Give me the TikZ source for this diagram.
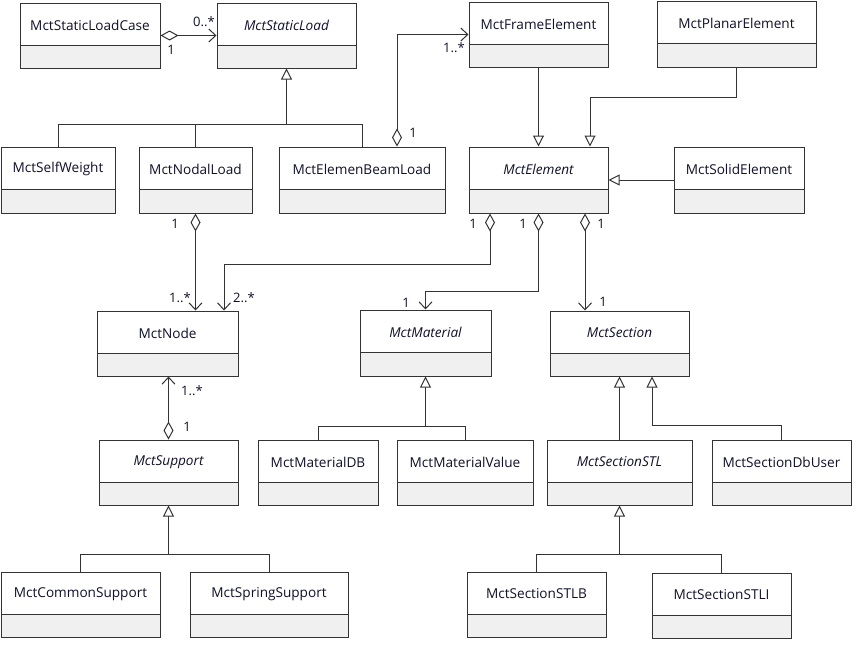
\documentclass[tikz,border=0pt]{standalone}
\usepackage{fontspec}
\setmainfont{Open Sans}
\usetikzlibrary{arrows.meta}
\definecolor{ln}{HTML}{333333}
\definecolor{attr}{HTML}{F0F0F0}
\definecolor{txt}{HTML}{10102A}
\newcommand{\umlclass}[7]{%
  \fill[attr] (#2,#3+42) rectangle (#4,#5);
  \node[box, minimum width={(#4-#2)*1pt}, minimum height={(#5-#3)*1pt}] (#1) at ({(#2+#4)/2},{(#3+#5)/2}) {};
  \draw[conn] (#2,#3+42) -- (#4,#3+42);
  \node[ttl,#7] (#1-t) at ({(#2+#4)/2},#3+22) {#6};
}
\tikzset{
  box/.style={draw=ln, line width=1pt, inner sep=0pt, rectangle},
  ttl/.style={font=\fontsize{13.6}{16}\selectfont, text=txt, inner sep=0pt},
  up/.style={},
  it/.style={font=\fontsize{13.6}{16}\selectfont\itshape},
  lbl/.style={font=\fontsize{13}{15}\selectfont, text=txt, inner sep=0pt},
  conn/.style={draw=ln, line width=1pt},
  agg/.style={conn, {Diamond[open,length=18pt,width=10pt]}-{Straight Barb[length=7pt,width=13pt]}},
  gen/.style={conn, -{Triangle[open,length=11pt,width=11pt,fill=white]}},
}
\begin{document}
\begin{tikzpicture}[x=1pt,y=-1pt]
\fill[white] (0,0) rectangle (858,645);
\useasboundingbox (0,0) rectangle (858,645);
\umlclass{slc}{20}{3}{160}{68}{MctStaticLoadCase}{up}
\umlclass{sl}{217}{3}{356}{68}{MctStaticLoad}{it}
\umlclass{sw}{1}{147}{115}{213}{MctSelfWeight}{up}
\umlclass{nl}{139}{147}{252}{213}{MctNodalLoad}{up}
\umlclass{ebl}{279}{147}{445}{213}{MctElemenBeamLoad}{up}
\umlclass{fe}{469}{2}{608}{67}{MctFrameElement}{up}
\umlclass{pe}{657}{1}{816}{67}{MctPlanarElement}{up}
\umlclass{el}{469}{147}{608}{213}{MctElement}{it}
\umlclass{se}{674}{147}{804}{213}{MctSolidElement}{up}
\umlclass{nd}{97}{311}{238}{376}{MctNode}{up}
\umlclass{mat}{360}{310}{491}{376}{MctMaterial}{it}
\umlclass{sec}{550}{311}{689}{376}{MctSection}{it}
\umlclass{sup}{99}{440}{238}{505}{MctSupport}{it}
\umlclass{mdb}{258}{440}{378}{505}{MctMaterialDB}{up}
\umlclass{mv}{397}{440}{533}{505}{MctMaterialValue}{up}
\umlclass{stl}{547}{440}{692}{505}{MctSectionSTL}{it}
\umlclass{dbu}{712}{440}{851}{505}{MctSectionDbUser}{up}
\umlclass{cs}{1}{572}{160}{637}{MctCommonSupport}{up}
\umlclass{ss}{190}{572}{348}{637}{MctSpringSupport}{up}
\umlclass{stlb}{467}{572}{606}{637}{MctSectionSTLB}{up}
\umlclass{stli}{652}{573}{791}{638}{MctSectionSTLI}{up}
% static load generalization
\coordinate (g1) at (286.5,124);
\draw[conn] (sw.north) |- (g1);
\draw[conn] (ebl.north) |- (g1);
\draw[conn] (nl.north) -- (nl.north |- g1);
\draw[gen] (g1) -- (sl.south);
% element generalizations
\draw[gen] (fe.south) -- (el.north);
\draw[gen] (pe.south) -- ++(0,30) -| ([xshift=51.5pt]el.north);
\draw[gen] (se.west) -- (el.east);
% support
\coordinate (g2) at (168.5,554);
\draw[conn] (cs.north) |- (g2);
\draw[conn] (ss.north) |- (g2);
\draw[gen] (g2) -- (sup.south);
% material
\coordinate (g3) at (425.5,426);
\draw[conn] (mdb.north) |- (g3);
\draw[conn] (mv.north) |- (g3);
\draw[gen] (g3) -- (mat.south);
% section
\draw[gen] (stl.north) -- (sec.south);
\draw[gen] (dbu.north) |- ++(-129.5,-14) -- ([xshift=32.5pt]sec.south);
\coordinate (g4) at (619.5,554);
\draw[conn] (stlb.north) |- (g4);
\draw[conn] (stli.north) |- (g4);
\draw[gen] (g4) -- (stl.south);
% aggregations
\draw[agg] (slc.east) -- (sl.west);
\draw[agg] ([xshift=35pt]ebl.north) |- (fe.west);
\draw[agg] (nl.south) -- (nl.south |- nd.north);
\draw[agg] ([xshift=-48.5pt]el.south) -- ++(0,51) -| ([xshift=56.5pt]nd.north);
\draw[agg] (el.south) -- ++(0,78) -| (mat.north);
\draw[agg] ([xshift=46.5pt]el.south) -- ([xshift=46.5pt]el.south |- sec.north);
\draw[agg] (sup.north) -- (sup.north |- nd.south);
% multiplicities
\node[lbl] (m1) at (204,22) {0..*};
\node[lbl] (m2) at (171,50) {1};
\node[lbl] (m3) at (413,133) {1};
\node[lbl] (m4) at (454,48) {1..*};
\node[lbl] (m5) at (175,224) {1};
\node[lbl] (m6) at (180,298) {1..*};
\node[lbl] (m7) at (473,224) {1};
\node[lbl] (m8) at (244,298) {2..*};
\node[lbl] (m9) at (523,224) {1};
\node[lbl] (m10) at (601,224) {1};
\node[lbl] (m11) at (406,303) {1};
\node[lbl] (m12) at (603,302) {1};
\node[lbl] (m13) at (192,391) {1..*};
\node[lbl] (m14) at (187,427) {1};
\end{tikzpicture}
\end{document}
